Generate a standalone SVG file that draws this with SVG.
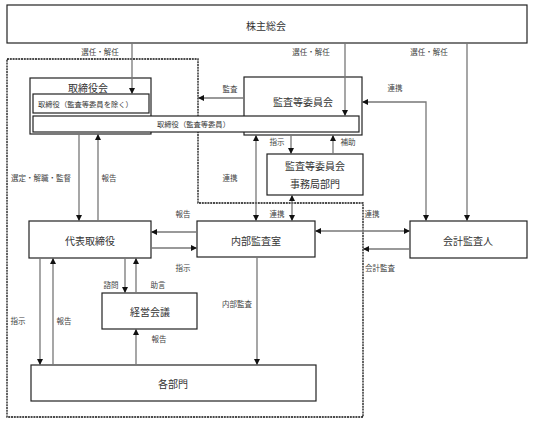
<svg xmlns="http://www.w3.org/2000/svg" width="534" height="426" viewBox="0 0 534 426">
<defs>
<style>
text{font-family:"Noto Sans CJK JP","Noto Sans CJK SC",sans-serif;fill:#333}
.box{fill:#fff;stroke:#222;stroke-width:1.2}
.t{font-size:10px;text-anchor:middle;dominant-baseline:central}
.s{font-size:7.3px;dominant-baseline:central}
.l{font-size:7.5px;text-anchor:middle;dominant-baseline:central;fill:#444}
.c{fill:none;stroke:#777;stroke-width:1.3}
.dash{fill:none;stroke:#111;stroke-width:1.3;stroke-dasharray:2 0.8}
</style>
<marker id="a" viewBox="0 0 10 10" refX="10" refY="5" markerWidth="6" markerHeight="6" markerUnits="userSpaceOnUse" orient="auto-start-reverse">
<path d="M0,0 L10,5 L0,10 Z" fill="#111"/>
</marker>
</defs>
<rect width="534" height="426" fill="#fff"/>

<path class="dash" d="M7,59 H198 V203 H363 V417 H7 Z"/>

<g id="kabunushi">
<rect class="box" x="7" y="5" width="520" height="38"/>
<text class="t" x="266" y="25">株主総会</text>
</g>

<g id="torishimariyakukai">
<rect class="box" x="30" y="78" width="121" height="56"/>
<text class="t" x="88" y="87">取締役会</text>
<rect class="box" x="33" y="94" width="116" height="19"/>
<text class="s" x="38" y="103.5">取締役（監査等委員を除く）</text>
</g>

<g id="kansatouiinkai">
<rect class="box" x="244" y="77" width="118" height="58"/>
<text class="t" x="303" y="101">監査等委員会</text>
</g>

<g id="torishimariyaku-kansa">
<rect class="box" x="33" y="116" width="326" height="16"/>
<text class="s" x="157" y="124">取締役（監査等委員）</text>
</g>

<g id="jimukyoku">
<rect class="box" x="267" y="154" width="96" height="41"/>
<text class="t" x="315" y="165">監査等委員会</text>
<text class="t" x="315" y="183">事務局部門</text>
</g>

<g id="daihyo">
<rect class="box" x="29" y="221" width="122" height="37"/>
<text class="t" x="90" y="240">代表取締役</text>
</g>

<g id="naibukansa">
<rect class="box" x="197" y="221" width="118" height="36"/>
<text class="t" x="256" y="240">内部監査室</text>
</g>

<g id="kaikei">
<rect class="box" x="410" y="221" width="117" height="37"/>
<text class="t" x="468" y="240">会計監査人</text>
</g>

<g id="keiei">
<rect class="box" x="102" y="293" width="95" height="36"/>
<text class="t" x="150" y="311">経営会議</text>
</g>

<g id="kakubumon">
<rect class="box" x="31" y="365" width="285" height="36"/>
<text class="t" x="173" y="383">各部門</text>
</g>

<g id="connectors">
<path class="c" d="M132,43 V94" marker-end="url(#a)"/>
<path class="c" d="M345,43 V116" marker-end="url(#a)"/>
<path class="c" d="M467,43 V221" marker-end="url(#a)"/>
<path class="c" d="M244,98 H198" marker-end="url(#a)"/>
<path class="c" d="M426,221 V102 H362" marker-start="url(#a)" marker-end="url(#a)"/>
<path class="c" d="M291,135 V154" marker-end="url(#a)"/>
<path class="c" d="M333,154 V135" marker-end="url(#a)"/>
<path class="c" d="M256,135 V221" marker-start="url(#a)" marker-end="url(#a)"/>
<path class="c" d="M292,195 V221" marker-start="url(#a)" marker-end="url(#a)"/>
<path class="c" d="M315,231 H410" marker-start="url(#a)" marker-end="url(#a)"/>
<path class="c" d="M410,249 H363" marker-end="url(#a)"/>
<path class="c" d="M79,134 V221" marker-end="url(#a)"/>
<path class="c" d="M98,221 V134" marker-end="url(#a)"/>
<path class="c" d="M197,232 H151" marker-end="url(#a)"/>
<path class="c" d="M151,248 H197" marker-end="url(#a)"/>
<path class="c" d="M125,258 V293" marker-end="url(#a)"/>
<path class="c" d="M136,293 V258" marker-end="url(#a)"/>
<path class="c" d="M40,258 V365" marker-end="url(#a)"/>
<path class="c" d="M53,365 V258" marker-end="url(#a)"/>
<path class="c" d="M136,365 V329" marker-end="url(#a)"/>
<path class="c" d="M257,257 V365" marker-end="url(#a)"/>
</g>

<g id="labels">
<text class="l" x="100" y="51">選任・解任</text>
<text class="l" x="311" y="51">選任・解任</text>
<text class="l" x="429" y="51">選任・解任</text>
<text class="l" x="230" y="88">監査</text>
<text class="l" x="395" y="87">連携</text>
<text class="l" x="277" y="141">指示</text>
<text class="l" x="348" y="141">補助</text>
<text class="l" x="230" y="177">連携</text>
<text class="l" x="41" y="177">選定・解職・監督</text>
<text class="l" x="109" y="177">報告</text>
<text class="l" x="183" y="213">報告</text>
<text class="l" x="277" y="213">連携</text>
<text class="l" x="372" y="213">連携</text>
<text class="l" x="183" y="267">指示</text>
<text class="l" x="380" y="267">会計監査</text>
<text class="l" x="111" y="284">諮問</text>
<text class="l" x="158" y="284">助言</text>
<text class="l" x="237" y="303">内部監査</text>
<text class="l" x="18" y="320">指示</text>
<text class="l" x="64" y="320">報告</text>
<text class="l" x="159" y="338">報告</text>
</g>
</svg>
